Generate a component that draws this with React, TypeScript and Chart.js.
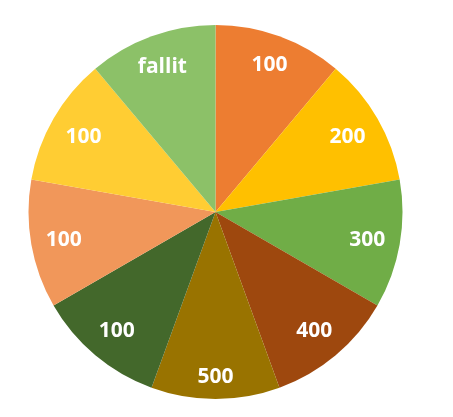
import React, { useEffect, useRef } from "react";
import { Chart, registerables } from "chart.js";

Chart.register(...registerables);

const categories = ["100", "200", "300", "400", "500", "100", "100", "100", "fallit"];
const values = [1, 1, 1, 1, 1, 1, 1, 1, 1];
const colors = ["#ED7D31", "#FFC000", "#70AD47", "#9E480E", "#997300", "#43682B", "#F1975A", "#FFCD33", "#8CC168"];

const labelPlugin = {
  id: "sliceLabels",
  afterDatasetsDraw(chart: any) {
    const ctx = chart.ctx;
    const meta = chart.getDatasetMeta(0);
    ctx.save();
    ctx.fillStyle = "#FFFFFF";
    ctx.font = "bold 21px 'Open Sans'";
    ctx.textAlign = "center";
    ctx.textBaseline = "middle";
    meta.data.forEach((arc: any, i: number) => {
      const p = arc.getProps(["x", "y", "startAngle", "endAngle", "outerRadius"], true);
      const mid = (p.startAngle + p.endAngle) / 2;
      const text = chart.data.labels[i];
      const hw = ctx.measureText(text).width / 2 + 2;
      const hh = 12;
      const dx = Math.cos(mid);
      const dy = Math.sin(mid);
      const support = hw * Math.abs(dx) + hh * Math.abs(dy);
      const r = p.outerRadius * 0.94 - support;
      ctx.fillText(text, p.x + dx * r, p.y + dy * r + 1);
    });
    ctx.restore();
  },
};

export default function App() {
  const ref = useRef<HTMLCanvasElement>(null);
  useEffect(() => {
    const chart = new Chart(ref.current!, {
      type: "pie",
      data: {
        labels: categories,
        datasets: [{ data: values, backgroundColor: colors, borderWidth: 0 }],
      },
      options: {
        animation: false,
        responsive: false,
        layout: { padding: { left: 28.5, right: 50.5, top: 25, bottom: 18 } },
        plugins: { legend: { display: false }, tooltip: { enabled: false } },
      },
      plugins: [labelPlugin],
    });
    return () => chart.destroy();
  }, []);
  return (
    <div style={{ position: "fixed", left: 0, top: 0, width: 453, height: 417, background: "#fff" }}>
      <canvas ref={ref} width={453} height={417} style={{ display: "block" }} />
    </div>
  );
}
